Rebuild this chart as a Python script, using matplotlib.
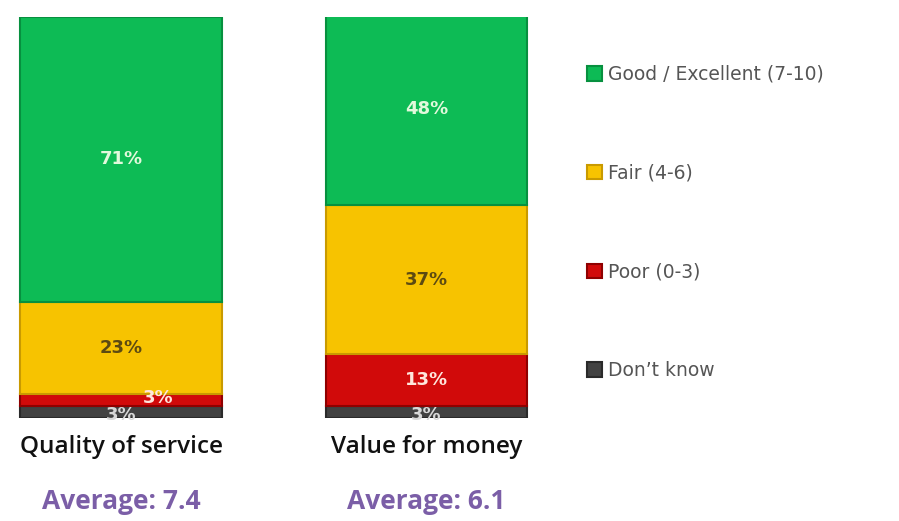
import matplotlib.pyplot as plt
import numpy as np

plt.rcParams['font.family'] = ['Open Sans', 'DejaVu Sans']

categories = ['Quality of service', 'Value for money']
averages = ['Average: 7.4', 'Average: 6.1']
series = ['Good / Excellent (7-10)', 'Fair (4-6)', 'Poor (0-3)', "Don\u2019t know"]
colors = ['#0dbb55', '#f7c300', '#d10a0a', '#424242']
edges = ['#07903f', '#c99a00', '#8f0000', '#2a2a2a']
txtcols = ['#e2f9dc', '#5c4a12', '#ffe6dc', '#d8d8d8']
# values from the bottom segment up
dont_know = [3, 3]
poor = [3, 13]
fair = [23, 37]
good = [71, 48]

fig = plt.figure(figsize=(8.99, 5.21), dpi=100)
ax = fig.add_axes([0, 103/521, 1, 401/521])
x = np.arange(len(categories))
w = 0.661

stack = [dont_know, poor, fair, good]
names = [series[3], series[2], series[1], series[0]]
cols = [colors[3], colors[2], colors[1], colors[0]]
eds = [edges[3], edges[2], edges[1], edges[0]]
tcs = [txtcols[3], txtcols[2], txtcols[1], txtcols[0]]
bottom = np.zeros(len(categories))
handles = {}
for vals, name, c, e, tc in zip(stack, names, cols, eds, tcs):
    vals = np.array(vals)
    b = ax.bar(x, vals, w, bottom=bottom, color=c, edgecolor=e, linewidth=1.5, label=name)
    handles[name] = b
    for i, v in enumerate(vals):
        cy = bottom[i] + v / 2
        cx = x[i]
        if name == 'Poor (0-3)' and v < 5:
            cx = x[i] + 0.12
            cy = bottom[i] + v / 2 + 0.6
        elif name == "Don\u2019t know":
            cy = bottom[i] + v / 2 - 0.8
        ax.text(cx, cy, f'{v}%', ha='center', va='center', color=tc,
                fontsize=13, fontweight='bold', family='DejaVu Sans')
    bottom += vals

ax.set_xlim(-121/305.5, (899-121)/305.5)
ax.set_ylim(0, 100)
ax.axis('off')

for i in range(len(categories)):
    ax.text(x[i], -7.3, categories[i], ha='center', va='center', fontsize=17.5,
            color='#111111', fontweight='semibold')
    ax.text(x[i], -20.7, averages[i], ha='center', va='center', fontsize=19,
            color='#7b5ea7', fontweight='bold')

leg = fig.legend([handles[s] for s in series], series, loc='upper left',
                 bbox_to_anchor=(570/899, 1 - 48/521), frameon=False,
                 prop={'family': 'DejaVu Sans', 'size': 13.5}, labelcolor='#555555',
                 handlelength=0.8, handleheight=0.8, handletextpad=0.3,
                 labelspacing=4.25)

fig.savefig('out.png', dpi=100)
